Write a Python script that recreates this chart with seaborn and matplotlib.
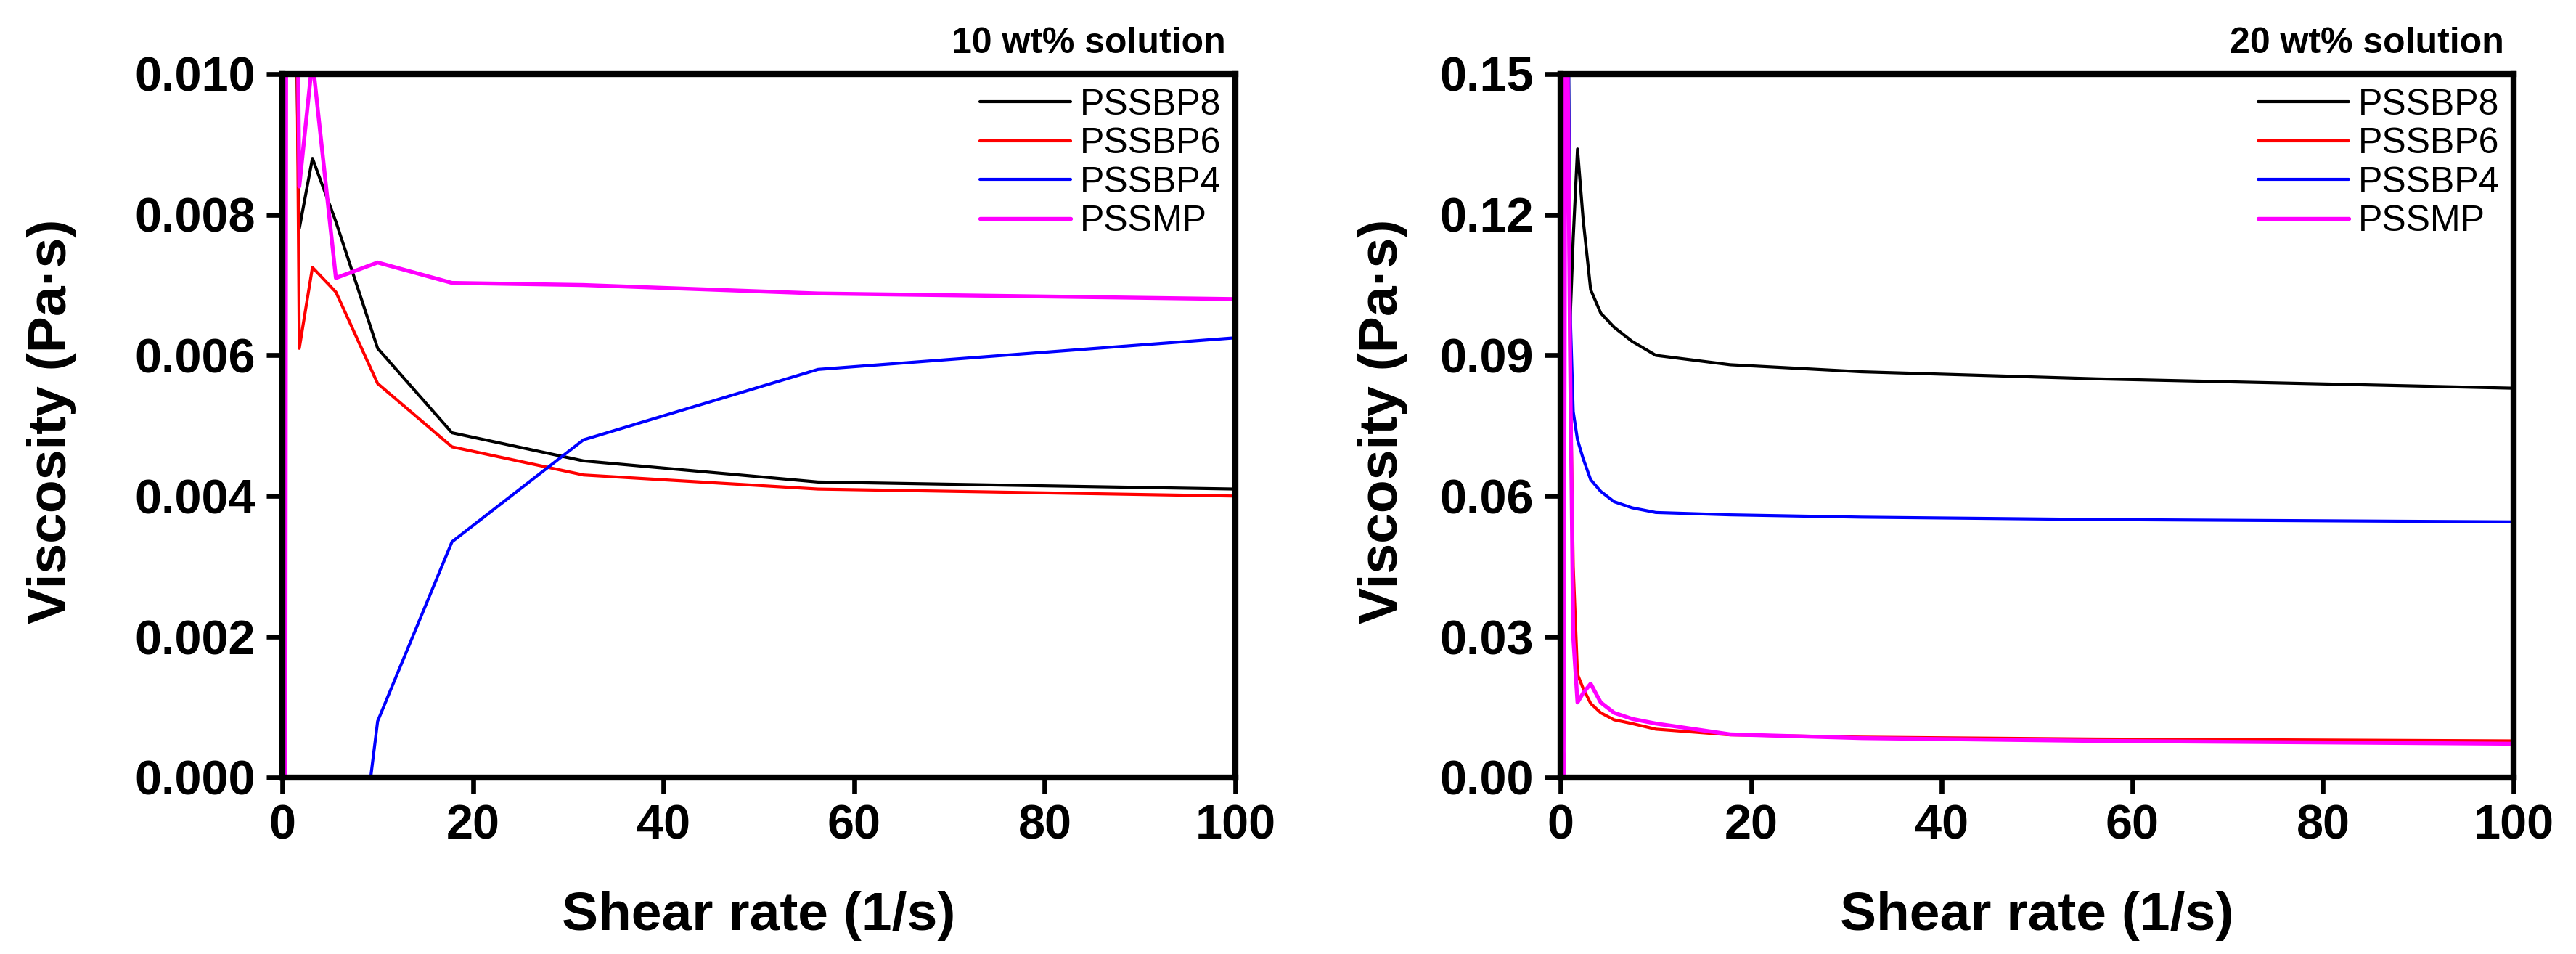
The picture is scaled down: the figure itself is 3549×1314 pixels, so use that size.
import pandas as pd
import seaborn as sns
import matplotlib.pyplot as plt
from matplotlib.ticker import FormatStrFormatter, MultipleLocator

series_names = ['PSSBP8', 'PSSBP6', 'PSSBP4', 'PSSMP']
series_colors = ['#000000', '#ff0000', '#0000ff', '#ff00ff']
series_widths = [1.0, 1.0, 1.0, 1.3]

# 10 wt% solution
rate_10 = [0.1, 0.178, 0.316, 0.562, 1.0, 1.78, 3.16, 5.62, 10, 17.8, 31.6, 56.2, 100]
bp8_10 = [0.0, 0.05, 0.02, 0.03, 0.015, 0.0078, 0.0088, 0.0079, 0.0061, 0.0049, 0.0045, 0.0042, 0.0041]
bp6_10 = [0.0, 0.04, 0.02, 0.03, 0.02, 0.0061, 0.00725, 0.0069, 0.0056, 0.0047, 0.0043, 0.0041, 0.0040]
bp4_10 = [-0.05, -0.04, -0.03, -0.02, -0.015, -0.01, -0.007, -0.004, 0.0008, 0.00335, 0.0048, 0.0058, 0.00625]
mp_10 = [0.0, 0.03, 0.0, 0.03, 0.02, 0.0084, 0.0102, 0.0071, 0.00732, 0.00703, 0.0070, 0.00688, 0.0068]

# 20 wt% solution
rate_20 = [0.1, 0.178, 0.316, 0.562, 1.0, 1.33, 1.78, 2.37, 3.16, 4.22, 5.62, 7.5, 10, 17.8, 31.6, 56.2, 100]
bp8_20 = [0.005, 0.01, 0.3, 0.25, 0.097, 0.115, 0.134, 0.119, 0.104, 0.099, 0.096, 0.093, 0.090, 0.088, 0.0865, 0.085, 0.083]
bp6_20 = [0.0, 0.1, 0.3, 0.2, 0.09, 0.045, 0.022, 0.019, 0.0158, 0.0138, 0.0123, 0.0115, 0.0103, 0.0091, 0.0086, 0.0082, 0.0078]
bp4_20 = [0.0, 0.05, 0.3, 0.25, 0.1, 0.078, 0.072, 0.068, 0.0635, 0.061, 0.0588, 0.0575, 0.0565, 0.056, 0.0555, 0.055, 0.0545]
mp_20 = [0.0, 0.012, 0.0, 0.2, 0.09, 0.03, 0.016, 0.018, 0.020, 0.016, 0.0138, 0.0125, 0.0115, 0.0092, 0.0084, 0.0078, 0.0072]

panels = [
    (rate_10, [bp8_10, bp6_10, bp4_10, mp_10], '10 wt% solution', 0.010, 0.002, '%.3f', -0.242),
    (rate_20, [bp8_20, bp6_20, bp4_20, mp_20], '20 wt% solution', 0.15, 0.03, '%.2f', -0.186),
]

sns.set_style('ticks')
plt.rcParams['font.family'] = ['Liberation Sans', 'DejaVu Sans']
plt.rcParams.update({
    'axes.linewidth': 2.0,
    'axes.edgecolor': 'black',
    'axes.labelcolor': 'black',
    'text.color': 'black',
    'xtick.color': 'black',
    'ytick.color': 'black',
})

fig = plt.figure(figsize=(11.83, 4.38), dpi=300)
axes = [fig.add_axes([0.1096, 0.185, 0.370, 0.7375]),
        fig.add_axes([0.6058, 0.185, 0.370, 0.7375])]

for ax, (rate, values, title, ymax, ystep, fmt, ylab_x) in zip(axes, panels):
    for name, color, lw, vals in zip(series_names, series_colors, series_widths, values):
        df = pd.DataFrame({'rate': rate, 'viscosity': vals})
        sns.lineplot(data=df, x='rate', y='viscosity', color=color, linewidth=lw,
                     label=name, estimator=None, sort=False, ax=ax)

    ax.set_xlim(0, 100)
    ax.set_ylim(0, ymax)
    ax.xaxis.set_major_locator(MultipleLocator(20))
    ax.yaxis.set_major_locator(MultipleLocator(ystep))
    ax.yaxis.set_major_formatter(FormatStrFormatter(fmt))
    ax.tick_params(direction='out', length=5.3, width=1.6, pad=3.5, labelsize=16,
                   color='black', labelcolor='black')
    for lab in ax.get_xticklabels() + ax.get_yticklabels():
        lab.set_fontweight('bold')
    for sp in ax.spines.values():
        sp.set_visible(True)
        sp.set_linewidth(2.0)
        sp.set_color('black')

    ax.set_xlabel('Shear rate (1/s)', fontsize=18, fontweight='bold')
    ax.set_ylabel('Viscosity (Pa·s)', fontsize=18, fontweight='bold')
    ax.xaxis.label.set_va('center')
    ax.yaxis.label.set_va('center')
    ax.xaxis.set_label_coords(0.5, -0.197)
    ax.yaxis.set_label_coords(ylab_x, 0.506)

    ax.set_title(title, loc='right', x=0.99, fontsize=12, fontweight='bold', pad=7)
    ax.legend(loc='upper right', bbox_to_anchor=(1.0, 1.0), borderaxespad=0.0,
              frameon=False, fontsize=12, handlelength=2.5, handletextpad=0.25,
              labelspacing=0.15)

fig.savefig('out.png', dpi=300)
